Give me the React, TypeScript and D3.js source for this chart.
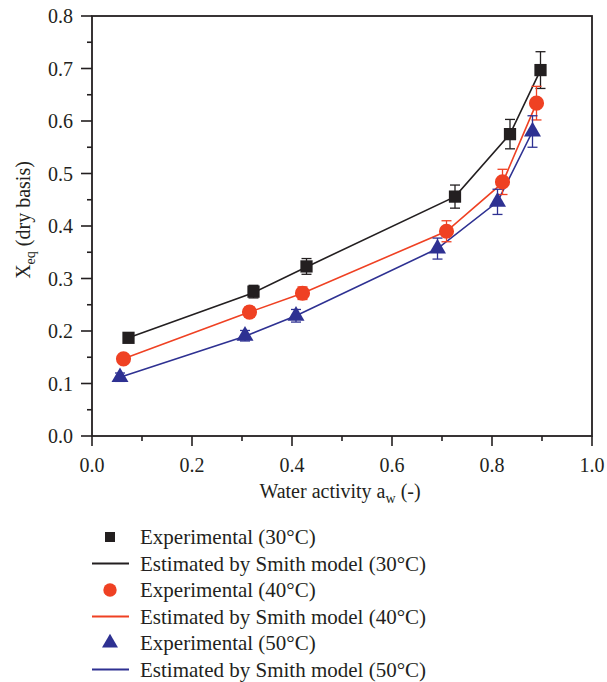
import React from "react";
import * as d3 from "d3";

// water activity (x) and equilibrium moisture (y) per temperature
const aw30 = [0.073, 0.323, 0.429, 0.726, 0.836, 0.897];
const exp30 = [0.187, 0.275, 0.323, 0.456, 0.575, 0.697];
const err30 = [0.008, 0.012, 0.015, 0.022, 0.028, 0.035];
const smith30 = [0.187, 0.273, 0.322, 0.456, 0.575, 0.697];

const aw40 = [0.063, 0.315, 0.421, 0.709, 0.821, 0.889];
const exp40 = [0.147, 0.236, 0.272, 0.39, 0.484, 0.634];
const err40 = [0.006, 0.01, 0.012, 0.02, 0.024, 0.032];
const smith40 = [0.147, 0.236, 0.272, 0.39, 0.482, 0.634];

const aw50 = [0.056, 0.306, 0.408, 0.691, 0.811, 0.881];
const exp50 = [0.112, 0.191, 0.229, 0.357, 0.446, 0.58];
const err50 = [0.008, 0.01, 0.012, 0.02, 0.024, 0.03];
const smith50 = [0.112, 0.19, 0.229, 0.357, 0.446, 0.58];

const xTicks = [0.0, 0.2, 0.4, 0.6, 0.8, 1.0];
const yTicks = [0.0, 0.1, 0.2, 0.3, 0.4, 0.5, 0.6, 0.7, 0.8];

const legendLabels = [
  "Experimental (30°C)",
  "Estimated by Smith model (30°C)",
  "Experimental (40°C)",
  "Estimated by Smith model (40°C)",
  "Experimental (50°C)",
  "Estimated by Smith model (50°C)",
];

const INK = "#231f20";
const FONT = "'Liberation Serif', 'Times New Roman', serif";

const series = [
  { aw: aw30, exp: exp30, err: err30, fit: smith30, color: INK, shape: d3.symbolSquare, size: 150 },
  { aw: aw40, exp: exp40, err: err40, fit: smith40, color: "#ef4123", shape: d3.symbolCircle, size: 180 },
  { aw: aw50, exp: exp50, err: err50, fit: smith50, color: "#2e3192", shape: d3.symbolTriangle, size: 125 },
];

export default function App() {
  const W = 607, H = 682;
  const x = d3.scaleLinear().domain([0, 1]).range([92, 592]);
  const y = d3.scaleLinear().domain([0, 0.8]).range([436, 16]);

  const line = d3.line<[number, number]>()
    .x(d => x(d[0]))
    .y(d => y(d[1]));

  const xMinor = d3.range(0.1, 1.0, 0.2);
  const yMinor = d3.range(0.05, 0.8, 0.1);

  return (
    <svg width={W} height={H} style={{ position: "absolute", left: 0, top: 0 }} fontFamily={FONT}>
      <rect width={W} height={H} fill="#fff" />

      {/* model lines */}
      {series.map((s, i) => (
        <path key={"l" + i}
          d={line(s.aw.map((a, j) => [a, s.fit[j]] as [number, number])) || ""}
          fill="none" stroke={s.color} strokeWidth={1.6} />
      ))}

      {/* error bars */}
      {series.map((s, i) => (
        <g key={"e" + i} stroke={s.color} strokeWidth={1.3}>
          {s.aw.map((a, j) => {
            const cx = x(a);
            const y1 = y(s.exp[j] + s.err[j]);
            const y2 = y(s.exp[j] - s.err[j]);
            return (
              <g key={j}>
                <line x1={cx} x2={cx} y1={y1} y2={y2} />
                <line x1={cx - 5} x2={cx + 5} y1={y1} y2={y1} />
                <line x1={cx - 5} x2={cx + 5} y1={y2} y2={y2} />
              </g>
            );
          })}
        </g>
      ))}

      {/* markers */}
      {series.map((s, i) => (
        <g key={"m" + i} fill={s.color}>
          {s.aw.map((a, j) => (
            <path key={j} transform={`translate(${x(a)},${y(s.exp[j])})`}
              d={d3.symbol().type(s.shape).size(s.size)() || ""} />
          ))}
        </g>
      ))}

      {/* frame */}
      <rect x={92} y={16} width={500} height={420} fill="none" stroke={INK} strokeWidth={1.8} />

      {/* x axis */}
      <g stroke={INK} strokeWidth={1.6}>
        {xTicks.map(t => <line key={t} x1={x(t)} x2={x(t)} y1={436} y2={446} />)}
        {xMinor.map(t => <line key={t} x1={x(t)} x2={x(t)} y1={436} y2={441} />)}
      </g>
      <g fontSize={20} fill={INK} textAnchor="middle">
        {xTicks.map(t => (
          <text key={t} x={x(t)} y={472}>{d3.format(".1f")(t)}</text>
        ))}
      </g>
      <text x={340} y={498} fontSize={20} fill={INK} textAnchor="middle">
        Water activity a<tspan fontSize={14} dy={5}>w</tspan><tspan dy={-5}> (-)</tspan>
      </text>

      {/* y axis */}
      <g stroke={INK} strokeWidth={1.6}>
        {yTicks.map(t => <line key={t} x1={81} x2={92} y1={y(t)} y2={y(t)} />)}
        {yMinor.map(t => <line key={t} x1={87} x2={92} y1={y(t)} y2={y(t)} />)}
      </g>
      <g fontSize={20} fill={INK} textAnchor="end">
        {yTicks.map(t => (
          <text key={t} x={73} y={y(t) + 7}>{d3.format(".1f")(t)}</text>
        ))}
      </g>
      <text transform="translate(30,220) rotate(-90)" fontSize={20} fill={INK} textAnchor="middle">
        X<tspan fontSize={14} dy={5}>eq</tspan><tspan dy={-5}> (dry basis)</tspan>
      </text>

      {/* legend */}
      {legendLabels.map((lab, i) => {
        const cy = 537 + i * 26.5;
        const s = series[Math.floor(i / 2)];
        const isLine = i % 2 === 1;
        const legSize = [100, 140, 110][Math.floor(i / 2)];
        return (
          <g key={lab}>
            {isLine
              ? <line x1={92} x2={129} y1={cy} y2={cy} stroke={s.color} strokeWidth={2} />
              : <path transform={`translate(110,${cy})`} fill={s.color}
                  d={d3.symbol().type(s.shape).size(legSize)() || ""} />}
            <text x={140} y={cy + 7} fontSize={21} fill={INK}>{lab}</text>
          </g>
        );
      })}
    </svg>
  );
}
